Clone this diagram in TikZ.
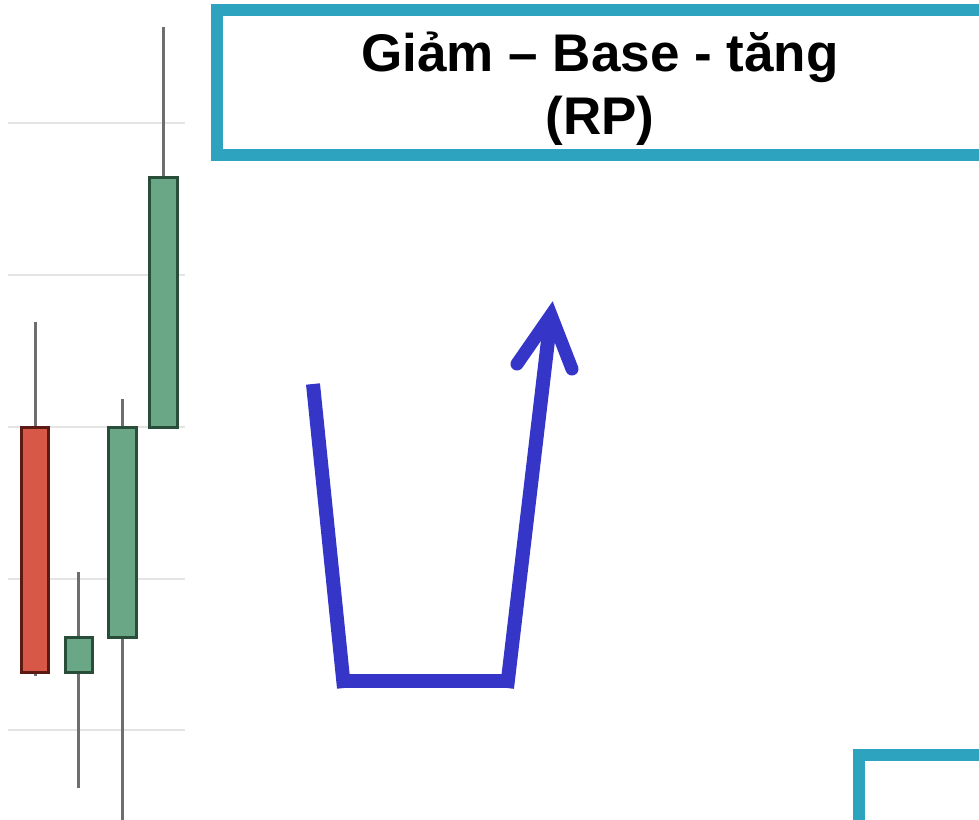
\documentclass[tikz,border=0pt]{standalone}
\usepackage{fontspec}
\setmainfont{Liberation Sans}
\definecolor{teal}{RGB}{46,163,192}
\definecolor{arrowblue}{RGB}{53,53,200}
\definecolor{gridgray}{RGB}{228,228,228}
\definecolor{wickgray}{RGB}{110,110,110}
\definecolor{redfill}{RGB}{216,88,72}
\definecolor{redline}{RGB}{92,26,20}
\definecolor{greenfill}{RGB}{106,167,134}
\definecolor{greenline}{RGB}{40,78,58}
\tikzset{
  framebox/.style={draw=teal, line width=12pt},
  gridline/.style={draw=gridgray, line width=2pt},
  wick/.style={draw=wickgray, line width=3pt},
  redbody/.style={draw=redline, fill=redfill, line width=3pt},
  greenbody/.style={draw=greenline, fill=greenfill, line width=3pt},
  bluepath/.style={draw=arrowblue, line width=14pt},
  bluehead/.style={draw=arrowblue, line width=13pt, line cap=round, line join=miter},
  titletext/.style={font=\fontsize{53}{63}\selectfont\bfseries, align=center, inner sep=0pt}
}
\begin{document}
\begin{tikzpicture}[x=1pt,y=-1pt]
\useasboundingbox (0,0) rectangle (979,819);
\clip (0,0) rectangle (979,819);
% grid
\foreach \gy in {123,275,427,579,730} \draw[gridline] (8,\gy) -- (185,\gy);
% candles
\draw[wick] (35,322) -- (35,676);
\draw[redbody] (21,427) rectangle (48,672);
\draw[wick] (78,572) -- (78,788);
\draw[greenbody] (65,637) rectangle (92,672);
\draw[wick] (122,399) -- (122,822);
\draw[greenbody] (108,427) rectangle (136,637);
\draw[wick] (163,27) -- (163,177);
\draw[greenbody] (149,177) rectangle (177,427);
% title box
\draw[framebox] (217,10) rectangle (1000,155);
\node[titletext] (title) at (600,89) {Giảm – Base - tăng\\(RP)};
% bottom-right box
\draw[framebox] (1000,755) -- (859,755) -- (859,840);
% blue arrow
\coordinate (p1) at (313,384);
\coordinate (p2) at (344,688);
\coordinate (b1) at (345,681);
\coordinate (b2) at (506,681);
\coordinate (p3) at (507,688);
\coordinate (tip) at (551,315);
\coordinate (hl) at (517,364);
\coordinate (hr) at (572,369);
\draw[bluepath] (p1) -- (p2);
\draw[bluepath] (b1) -- (b2);
\draw[bluepath] (p3) -- (tip);
\draw[bluehead] (hl) -- (tip) -- (hr);
\end{tikzpicture}
\end{document}
